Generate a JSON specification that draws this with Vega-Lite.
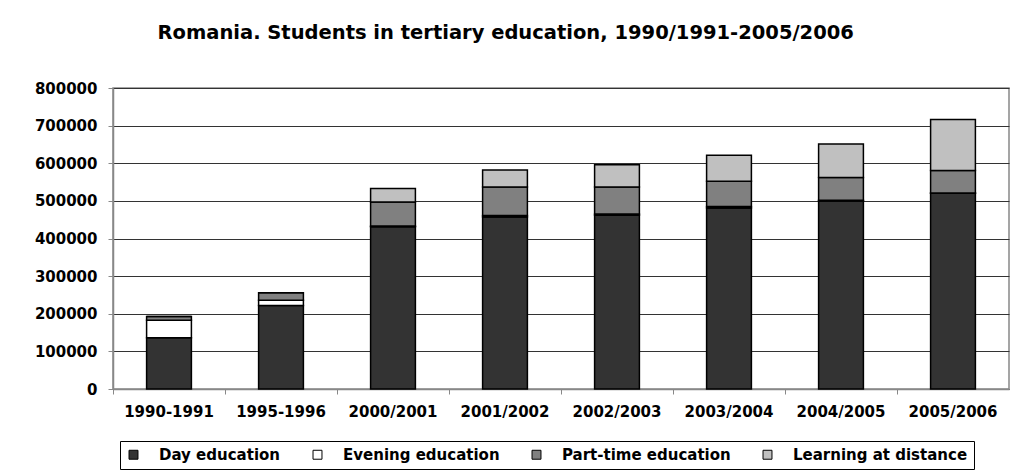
{
  "$schema": "https://vega.github.io/schema/vega-lite/v6.json",
  "width": 896,
  "height": 301,
  "autosize": "none",
  "padding": {"left": 113, "top": 88, "right": 4, "bottom": 83},
  "background": "white",
  "title": {
    "text": "Romania. Students  in  tertiary education, 1990/1991-2005/2006",
    "font": "DejaVu Sans",
    "fontSize": 19.5,
    "fontWeight": "bold",
    "color": "black",
    "anchor": "middle",
    "frame": "bounds",
    "dx": -16,
    "offset": 38
  },
  "data": {
    "values": [
      {"year": "1990-1991", "type": "Day education", "ord": 1, "students": 136000},
      {"year": "1990-1991", "type": "Evening education", "ord": 2, "students": 47000},
      {"year": "1990-1991", "type": "Part-time education", "ord": 3, "students": 10000},
      {"year": "1990-1991", "type": "Learning at distance", "ord": 4, "students": 0},
      {"year": "1995-1996", "type": "Day education", "ord": 1, "students": 222000},
      {"year": "1995-1996", "type": "Evening education", "ord": 2, "students": 14000},
      {"year": "1995-1996", "type": "Part-time education", "ord": 3, "students": 20000},
      {"year": "1995-1996", "type": "Learning at distance", "ord": 4, "students": 0},
      {"year": "2000/2001", "type": "Day education", "ord": 1, "students": 431000},
      {"year": "2000/2001", "type": "Evening education", "ord": 2, "students": 2000},
      {"year": "2000/2001", "type": "Part-time education", "ord": 3, "students": 64000},
      {"year": "2000/2001", "type": "Learning at distance", "ord": 4, "students": 36000},
      {"year": "2001/2002", "type": "Day education", "ord": 1, "students": 457000},
      {"year": "2001/2002", "type": "Evening education", "ord": 2, "students": 4000},
      {"year": "2001/2002", "type": "Part-time education", "ord": 3, "students": 76000},
      {"year": "2001/2002", "type": "Learning at distance", "ord": 4, "students": 45000},
      {"year": "2002/2003", "type": "Day education", "ord": 1, "students": 462000},
      {"year": "2002/2003", "type": "Evening education", "ord": 2, "students": 3000},
      {"year": "2002/2003", "type": "Part-time education", "ord": 3, "students": 72000},
      {"year": "2002/2003", "type": "Learning at distance", "ord": 4, "students": 59000},
      {"year": "2003/2004", "type": "Day education", "ord": 1, "students": 481000},
      {"year": "2003/2004", "type": "Evening education", "ord": 2, "students": 4000},
      {"year": "2003/2004", "type": "Part-time education", "ord": 3, "students": 67000},
      {"year": "2003/2004", "type": "Learning at distance", "ord": 4, "students": 69000},
      {"year": "2004/2005", "type": "Day education", "ord": 1, "students": 500000},
      {"year": "2004/2005", "type": "Evening education", "ord": 2, "students": 1500},
      {"year": "2004/2005", "type": "Part-time education", "ord": 3, "students": 60500},
      {"year": "2004/2005", "type": "Learning at distance", "ord": 4, "students": 89000},
      {"year": "2005/2006", "type": "Day education", "ord": 1, "students": 520000},
      {"year": "2005/2006", "type": "Evening education", "ord": 2, "students": 1000},
      {"year": "2005/2006", "type": "Part-time education", "ord": 3, "students": 60000},
      {"year": "2005/2006", "type": "Learning at distance", "ord": 4, "students": 135500}
    ]
  },
  "layer": [
    {
      "mark": {"type": "bar", "stroke": "black", "strokeWidth": 1.5, "width": {"band": 0.4}},
      "encoding": {
        "x": {
          "field": "year",
          "type": "nominal",
          "sort": null,
          "scale": {"paddingInner": 0, "paddingOuter": 0},
          "axis": {
            "orient": "bottom",
            "title": null,
            "labelAngle": 0,
            "ticks": false,
            "domain": false,
            "grid": false,
            "labelPadding": 15,
            "labelFont": "DejaVu Sans",
            "labelFontSize": 15,
            "labelFontWeight": "bold",
            "labelColor": "black"
          }
        },
        "y": {
          "field": "students",
          "type": "quantitative",
          "stack": "zero",
          "scale": {"domain": [0, 800000], "nice": false},
          "axis": {
            "title": null,
            "values": [0, 100000, 200000, 300000, 400000, 500000, 600000, 700000, 800000],
            "format": "d",
            "grid": true,
            "gridColor": "#333333",
            "gridWidth": 1,
            "domainColor": "#888888",
            "domainWidth": 1.5,
            "tickColor": "#888888",
            "tickSize": 5,
            "labelPadding": 11,
            "labelFont": "DejaVu Sans",
            "labelFontSize": 15,
            "labelFontWeight": "bold",
            "labelColor": "black"
          }
        },
        "color": {
          "field": "type",
          "type": "nominal",
          "scale": {
            "domain": ["Day education", "Evening education", "Part-time education", "Learning at distance"],
            "range": ["#333333", "#ffffff", "#808080", "#c0c0c0"]
          },
          "legend": {
            "title": null,
            "orient": "none",
            "legendX": 7,
            "legendY": 353,
            "direction": "horizontal",
            "symbolType": "square",
            "symbolSize": 80,
            "symbolStrokeColor": "black",
            "symbolStrokeWidth": 1,
            "labelFont": "DejaVu Sans",
            "labelFontSize": 15,
            "labelFontWeight": "bold",
            "labelColor": "black",
            "labelLimit": 400,
            "labelOffset": 18,
            "columnPadding": 29,
            "strokeColor": "black",
            "padding": 6
          }
        },
        "order": {"field": "ord", "type": "quantitative"}
      }
    },
    {
      "mark": {"type": "rule", "strokeOpacity": 0},
      "encoding": {
        "x": {
          "field": "year",
          "type": "nominal",
          "sort": null,
          "axis": {
            "orient": "bottom",
            "title": null,
            "labels": false,
            "ticks": true,
            "tickSize": 5,
            "tickColor": "#888888",
            "bandPosition": 0,
            "domain": true,
            "domainColor": "#888888",
            "domainWidth": 1.5,
            "grid": false
          }
        }
      }
    }
  ],
  "resolve": {"axis": {"x": "independent"}},
  "config": {
    "view": {"stroke": "#888888", "strokeWidth": 1.5}
  }
}
